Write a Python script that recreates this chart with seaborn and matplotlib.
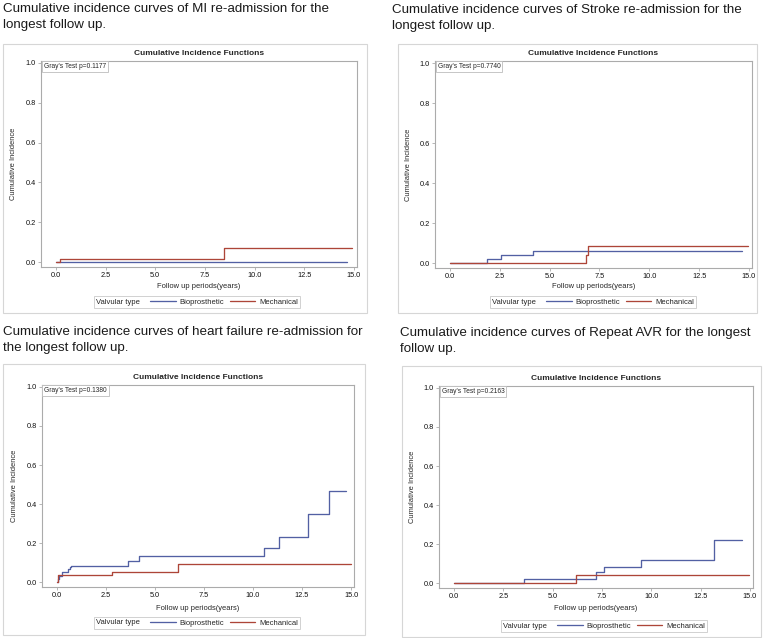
import pandas as pd
import matplotlib.pyplot as plt
import seaborn as sns
from matplotlib.patches import Rectangle
from matplotlib.offsetbox import HPacker

# MI re-admission
mi_bio_t = [0, 14.65]
mi_bio_y = [0, 0]
mi_mech_t = [0, 0.2, 8.45, 14.9]
mi_mech_y = [0, 0.015, 0.069, 0.069]

# Stroke re-admission
st_bio_t = [0, 1.85, 2.56, 4.17, 14.66]
st_bio_y = [0, 0.02, 0.042, 0.062, 0.062]
st_mech_t = [0, 6.81, 6.93, 14.93]
st_mech_y = [0, 0.042, 0.085, 0.085]

# Heart failure re-admission
hf_bio_t = [0, 0.05, 0.1, 0.25, 0.6, 0.68, 0.75, 3.63, 4.21, 10.58, 11.35, 12.8, 13.86, 14.76]
hf_bio_y = [0, 0.015, 0.03, 0.05, 0.065, 0.075, 0.085, 0.11, 0.135, 0.176, 0.229, 0.349, 0.469, 0.469]
hf_mech_t = [0, 0.07, 2.82, 6.18, 15.0]
hf_mech_y = [0, 0.036, 0.054, 0.093, 0.093]

# Repeat AVR
avr_bio_t = [0, 3.53, 7.22, 7.59, 9.46, 13.19, 14.6]
avr_bio_y = [0, 0.022, 0.055, 0.085, 0.119, 0.223, 0.223]
avr_mech_t = [0, 6.19, 14.97]
avr_mech_y = [0, 0.04, 0.04]

captions = [
    "Cumulative incidence curves of MI re-admission for the\nlongest follow up.",
    "Cumulative incidence curves of Stroke re-admission for the\nlongest follow up.",
    "Cumulative incidence curves of heart failure re-admission for\nthe longest follow up.",
    "Cumulative incidence curves of Repeat AVR for the longest\nfollow up.",
]
p_values = ["0.1177", "0.7740", "0.1380", "0.2163"]
x_ticks = [0, 2.5, 5, 7.5, 10, 12.5, 15]
y_ticks = [0, 0.2, 0.4, 0.6, 0.8, 1.0]
groups = ["Bioprosthetic", "Mechanical"]


def make_df(bio_t, bio_y, mech_t, mech_y):
    a = pd.DataFrame({"time": bio_t, "cif": bio_y, "Valvular type": groups[0]})
    b = pd.DataFrame({"time": mech_t, "cif": mech_y, "Valvular type": groups[1]})
    return pd.concat([a, b], ignore_index=True)


frames = [
    make_df(mi_bio_t, mi_bio_y, mi_mech_t, mi_mech_y),
    make_df(st_bio_t, st_bio_y, st_mech_t, st_mech_y),
    make_df(hf_bio_t, hf_bio_y, hf_mech_t, hf_mech_y),
    make_df(avr_bio_t, avr_bio_y, avr_mech_t, avr_mech_y),
]

# pixel layout: axes frame (l, t, r, b), outer box, caption (x, top), legend centre, ylabel x, xlabel y
W, H = 765, 638
layout = [
    dict(ax=(41, 61, 357, 267), box=(3, 44, 367, 313), cap=(3, 2.5), leg=(197, 302), yl=13, xl=287),
    dict(ax=(435, 61, 752, 268), box=(398, 44, 757, 313), cap=(392, 4), leg=(593, 302), yl=408, xl=287),
    dict(ax=(42, 385, 354, 587), box=(3, 364, 365, 635), cap=(3, 326), leg=(197, 623), yl=15, xl=608),
    dict(ax=(439, 386, 753, 588), box=(402, 366, 761, 637), cap=(400, 327), leg=(604, 626), yl=413, xl=608),
]

sns.set_theme(style="white")
plt.rcParams["font.family"] = ["Liberation Sans", "DejaVu Sans"]

palette = {"Bioprosthetic": "#5260a3", "Mechanical": "#ad4538"}
frame_col = "#ababab"
fs_leg = 5.5

fig = plt.figure(figsize=(W / 100, H / 100), dpi=100)

for df, lay, cap, pv in zip(frames, layout, captions, p_values):
    l, t, r, b = lay["ax"]
    ax = fig.add_axes([l / W, 1 - b / H, (r - l) / W, (b - t) / H])

    sns.lineplot(data=df, x="time", y="cif", hue="Valvular type", palette=palette,
                 drawstyle="steps-post", estimator=None, linewidth=0.95, ax=ax)

    ax.set_xlim(-0.75, 15.15)
    ax.set_ylim(-0.025, 1.01)
    ax.set_xticks(x_ticks)
    ax.set_xticklabels([f"{v:.1f}" for v in x_ticks])
    ax.set_yticks(y_ticks)
    ax.set_yticklabels([f"{v:.1f}" for v in y_ticks])
    ax.tick_params(direction="out", length=2.3, width=0.6, color=frame_col, pad=1.5,
                   labelsize=5.3, labelcolor="#111111", left=True, bottom=True)
    for s in ax.spines.values():
        s.set_color(frame_col)
        s.set_linewidth(0.8)

    ax.set_title("Cumulative Incidence Functions", fontsize=6, fontweight="bold", pad=4.5)
    ax.set_xlabel("Follow up periods(years)", fontsize=5.4)
    ax.set_ylabel("Cumulative Incidence", fontsize=5.4)
    ax.yaxis.set_label_coords((lay["yl"] + 3.5 - l) / (r - l), 0.5)
    ax.xaxis.set_label_coords(0.5, -(lay["xl"] - 3.5 - b) / (b - t))

    ax.text(0.008, 0.988, f"Gray's Test p={pv}", transform=ax.transAxes, fontsize=4.8,
            va="top", ha="left",
            bbox=dict(boxstyle="square,pad=0.3", fc="white", ec="#bdbdbd", lw=0.6))

    lx, ly = lay["leg"]
    sns.move_legend(ax, "center", bbox_to_anchor=(lx / W, 1 - ly / H), bbox_transform=fig.transFigure,
                    ncol=2, frameon=True, fancybox=False, edgecolor="#bdbdbd",
                    fontsize=fs_leg, title_fontsize=fs_leg, handlelength=3.3, handletextpad=0.55,
                    columnspacing=0.7, borderpad=0.25, title="Valvular type")
    leg = ax.get_legend()
    leg.get_frame().set_linewidth(0.6)
    # put the title to the left of the entries, like SAS does
    leg._legend_box.__class__ = HPacker
    leg._legend_box.sep = 1.0 * fs_leg * 100 / 72

    bl, bt, br, bb = lay["box"]
    fig.add_artist(Rectangle((bl / W, 1 - bb / H), (br - bl) / W, (bb - bt) / H,
                             transform=fig.transFigure, fill=False, ec="#d6d6d6", lw=0.8))

    cx, cy = lay["cap"]
    fig.text(cx / W, 1 - cy / H, cap, fontsize=9.6, color="#1a1a1a", va="top", ha="left",
             linespacing=1.5)

fig.savefig("out.png", dpi=100)
